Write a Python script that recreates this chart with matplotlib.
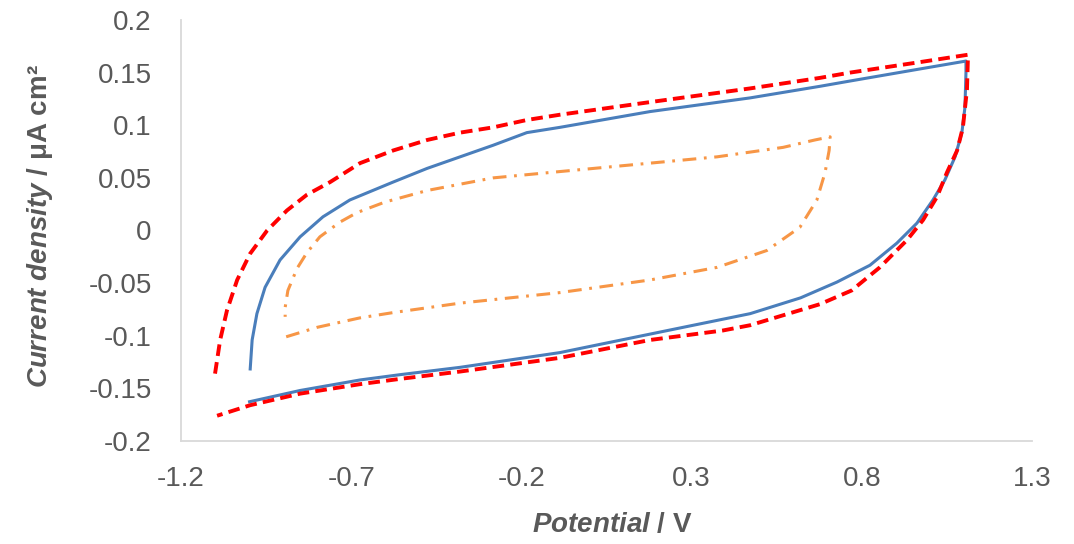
import matplotlib
matplotlib.use("Agg")
import matplotlib.pyplot as plt

plt.rcParams['font.family'] = ['Liberation Sans', 'DejaVu Sans']
plt.rcParams['mathtext.fontset'] = 'custom'
plt.rcParams['mathtext.bfit'] = 'Liberation Sans:italic:bold'
plt.rcParams['mathtext.it'] = 'Liberation Sans:italic'
plt.rcParams['mathtext.bf'] = 'Liberation Sans:bold'
plt.rcParams['mathtext.rm'] = 'Liberation Sans'

# Red dashed CV (outer)
red_x = [-1.100, -1.085, -1.065, -1.035, -0.997, -0.947, -0.889, -0.830, -0.762, -0.674,
         -0.577, -0.477, -0.380, -0.283, -0.184, -0.087, 0.178, 0.472, 0.677, 0.765, 0.971, 1.112,
         1.109, 1.097, 1.080, 1.050, 1.021, 0.980, 0.933, 0.853, 0.770, 0.677, 0.472, 0.392,
         0.178, -0.087, -0.380, -0.557, -0.674, -0.850, -0.997, -1.094]
red_y = [-0.136, -0.104, -0.076, -0.047, -0.022, 0.000, 0.019, 0.034, 0.046, 0.064,
         0.076, 0.086, 0.093, 0.098, 0.105, 0.110, 0.122, 0.135, 0.145, 0.150, 0.160, 0.167,
         0.134, 0.098, 0.076, 0.055, 0.032, 0.010, -0.009, -0.035, -0.057, -0.070, -0.090, -0.095,
         -0.104, -0.121, -0.134, -0.141, -0.146, -0.155, -0.166, -0.176]

# Blue solid CV
blue_x = [-0.997, -0.991, -0.977, -0.953, -0.909, -0.850, -0.783, -0.704, -0.577, -0.477, -0.380,
          -0.283, -0.184, -0.087, 0.178, 0.472, 0.677, 0.765, 0.962, 1.106,
          1.106, 1.103, 1.094, 1.074, 1.044, 1.009, 0.962, 0.903, 0.824, 0.727, 0.620, 0.472, 0.275,
          -0.087, -0.380, -0.557, -0.674, -0.850, -1.003]
blue_y = [-0.133, -0.104, -0.079, -0.054, -0.028, -0.006, 0.013, 0.029, 0.046, 0.059, 0.070,
          0.081, 0.093, 0.098, 0.113, 0.126, 0.137, 0.142, 0.153, 0.161,
          0.150, 0.117, 0.093, 0.070, 0.048, 0.029, 0.007, -0.012, -0.033, -0.049, -0.064, -0.079, -0.092,
          -0.116, -0.130, -0.137, -0.142, -0.152, -0.163]

# Orange dash-dot CV (inner)
orange_x = [-0.891, -0.800, -0.674, -0.577, -0.380, -0.087, 0.178, 0.375, 0.521, 0.618, 0.668, 0.692,
            0.704, 0.707, 0.662, 0.569, 0.375, 0.178, -0.087, -0.283, -0.477, -0.601, -0.683,
            -0.733, -0.792, -0.830, -0.859, -0.886, -0.894, -0.894]
orange_y = [-0.101, -0.092, -0.083, -0.078, -0.069, -0.059, -0.047, -0.035, -0.019, 0.003, 0.029, 0.055,
            0.076, 0.089, 0.086, 0.079, 0.070, 0.064, 0.056, 0.050, 0.038, 0.027, 0.017,
            0.008, -0.006, -0.021, -0.036, -0.057, -0.073, -0.082]

x_ticks = [-1.2, -0.7, -0.2, 0.3, 0.8, 1.3]
x_tick_labels = ['-1.2', '-0.7', '-0.2', '0.3', '0.8', '1.3']
y_ticks = [-0.2, -0.15, -0.1, -0.05, 0, 0.05, 0.1, 0.15, 0.2]
y_tick_labels = ['-0.2', '-0.15', '-0.1', '-0.05', '0', '0.05', '0.1', '0.15', '0.2']

fig = plt.figure(figsize=(10.74, 5.44), dpi=100)
ax = fig.add_axes([181 / 1074, 1 - 441 / 544, (1032 - 181) / 1074, (441 - 20) / 544])

ax.plot(blue_x, blue_y, color='#4A7EBB', lw=2.2, solid_capstyle='butt', solid_joinstyle='round', zorder=3)
ax.plot(red_x, red_y, color='#FF0000', lw=2.8, linestyle=(0, (3.0, 1.6)), zorder=4)
ax.plot(orange_x, orange_y, color='#F79646', lw=2.2, linestyle=(0, (4.5, 2.5, 0.9, 2.5)), zorder=2)

ax.set_xlim(-1.2, 1.3)
ax.set_ylim(-0.2, 0.2)
ax.set_xticks(x_ticks)
ax.set_xticklabels(x_tick_labels)
ax.set_yticks(y_ticks)
ax.set_yticklabels(y_tick_labels)
ax.tick_params(axis='both', length=0, labelsize=20, labelcolor='#595959')
ax.tick_params(axis='x', pad=18)
ax.tick_params(axis='y', pad=21)

for s in ['top', 'right']:
    ax.spines[s].set_visible(False)
for s in ['left', 'bottom']:
    ax.spines[s].set_color('#D9D9D9')
    ax.spines[s].set_linewidth(1.3)

ax.set_xlabel(r'$\mathbfit{Potential}$ / V', fontsize=20, fontweight='bold', color='#595959')
ax.set_ylabel(r'$\mathbfit{Current\ density}$ / μA cm²', fontsize=20, fontweight='bold', color='#595959')
ax.xaxis.set_label_coords((612 - 181) / 851, -(512 - 441) / 421)
ax.yaxis.set_label_coords(-(181 - 55) / 851, (441 - 226) / 421)

fig.savefig('out.png', dpi=100)
